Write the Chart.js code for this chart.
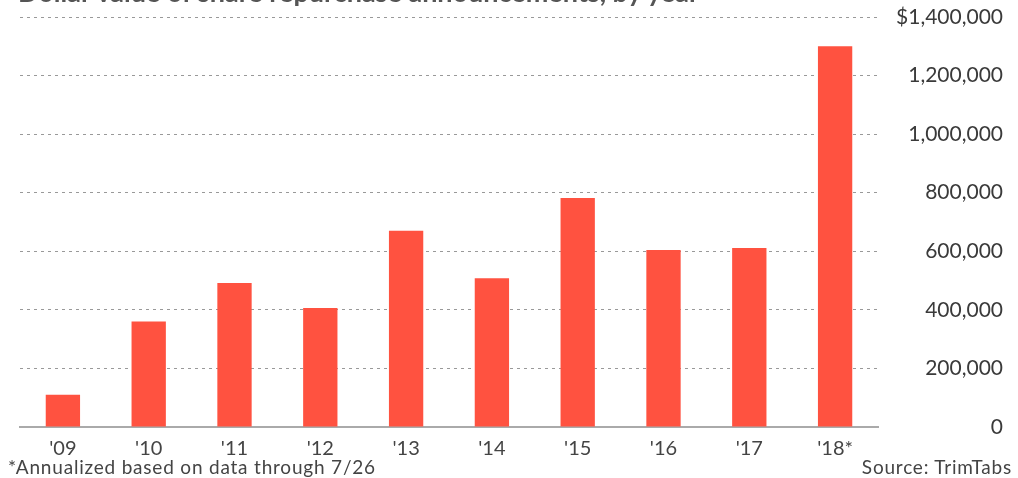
<!DOCTYPE html>
<html>
<head>
<meta charset="utf-8">
<script src="https://cdn.jsdelivr.net/npm/chart.js@4.4.0/dist/chart.umd.min.js"></script>
<style>
  body { margin: 0; background: #fff; font-family: Lato, sans-serif; }
  #wrap { position: relative; width: 1018px; height: 478px; overflow: hidden; }
  #title { position: absolute; left: 18px; top: -22px; font-size: 27px; line-height: 1; font-weight: bold; color: #555; white-space: nowrap; }
  .note { position: absolute; top: 456px; font-size: 19px; line-height: 22px; letter-spacing: 0.8px; color: #444; }
</style>
</head>
<body>
<div id="wrap">
  <canvas id="buybackChart" width="1018" height="478"></canvas>
  <div id="title">Dollar value of share repurchase announcements, by year</div>
  <div class="note" style="left:8px">*Annualized based on data through 7/26</div>
  <div class="note" style="right:6px">Source: TrimTabs</div>
</div>
<script>
// Data
const years = ["'09", "'10", "'11", "'12", "'13", "'14", "'15", "'16", "'17", "'18*"];
const buybacks = [110000, 360000, 492000, 406000, 670000, 508000, 782000, 604000, 611000, 1300000];
const yTicks = [0, 200000, 400000, 600000, 800000, 1000000, 1200000, 1400000];

function fmtTick(v) {
    const s = v.toLocaleString('en-US');
    return v === 1400000 ? '$' + s : s;
}

const ctx = document.getElementById('buybackChart').getContext('2d');
new Chart(ctx, {
    type: 'bar',
    data: {
        labels: years,
        datasets: [{
            data: buybacks,
            backgroundColor: '#ff5240',
            barPercentage: 0.4,
            categoryPercentage: 1
        }]
    },
    options: {
        responsive: false,
        animation: false,
        layout: { padding: { left: 20, right: 15, top: 17, bottom: 23 } },
        plugins: { legend: { display: false }, tooltip: { enabled: false } },
        scales: {
            x: {
                grid: { display: false },
                border: { display: true, color: '#aaa', width: 2 },
                ticks: { color: '#444', font: { family: 'Lato', size: 20 }, padding: 2 },
                afterFit: (s) => { s.height = 28; }
            },
            y: {
                position: 'right',
                min: 0,
                max: 1400000,
                afterBuildTicks: (s) => { s.ticks = yTicks.map(v => ({ value: v })); },
                grid: {
                    drawTicks: false,
                    color: (c) => c.tick && c.tick.value === 0 ? 'transparent' : '#999',
                    lineWidth: 1
                },
                border: { display: false, dash: [3, 4] },
                ticks: {
                    color: '#3a3a3a',
                    font: { family: 'Lato', size: 21 },
                    crossAlign: 'far',
                    callback: (v) => fmtTick(v)
                },
                afterFit: (s) => { s.width = 125; }
            }
        }
    }
});
</script>
</body>
</html>
